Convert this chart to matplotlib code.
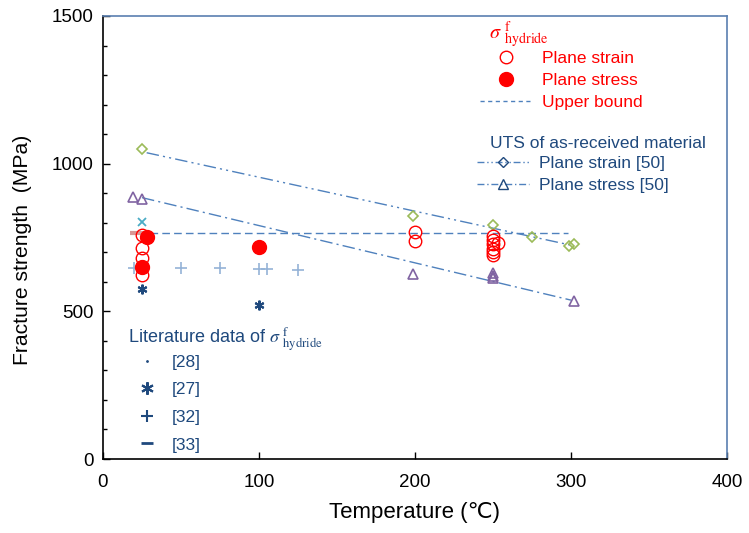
import numpy as np
import matplotlib
matplotlib.use('Agg')
import matplotlib.pyplot as plt
from matplotlib.lines import Line2D

plt.rcParams['font.family'] = ['Liberation Sans', 'DejaVu Sans']

# sigma_f hydride, this work
strain_T = [25, 25, 25, 25, 25, 200, 200, 250, 250, 250, 250, 250, 250, 253]
strain_S = [760, 715, 682, 650, 623, 768, 738, 755, 742, 727, 712, 700, 690, 731]
stress_T = [28, 25, 100]
stress_S = [752, 650, 718]
upper_T = [30, 298]
upper_S = [765, 765]

# UTS of as-received material [50]
uts_strain_T = [25, 199, 250, 275, 299, 302]
uts_strain_S = [1050, 822, 794, 753, 721, 727]
uts_stress_T = [19, 25, 199, 250, 250, 250, 302]
uts_stress_S = [887, 880, 627, 630, 620, 612, 535]
fit_strain_T = [28, 300]
fit_strain_S = [1037, 724]
fit_stress_T = [25, 300]
fit_stress_S = [885, 538]

# literature data
lit27_T = [25, 100]
lit27_S = [576, 520]
lit32_T = [20, 50, 75, 100, 105, 125]
lit32_S = [648, 648, 648, 645, 645, 640]
lit33_T = [22]
lit33_S = [765]
litx_T = [25]
litx_S = [802]

red = '#ff0000'
blue_line = '#4f81bd'
dark_blue = '#1f497d'
sig = r'$\sigma\ ^{\mathrm{f}}_{\mathrm{hydride}}$'

fig = plt.figure(figsize=(7.49, 5.33), dpi=100)
ax = fig.add_axes([0.1375, 0.1388, 0.8331, 0.8312])

ax.plot(fit_strain_T, fit_strain_S, color=blue_line, lw=1.0, ls=(0, (9, 3, 1.5, 3, 1.5, 3)))
ax.plot(fit_stress_T, fit_stress_S, color=blue_line, lw=1.0, ls=(0, (9, 3, 1.5, 3)))
ax.plot(upper_T, upper_S, color=blue_line, lw=1.0, ls=(0, (5.5, 3)))

ax.plot(uts_strain_T, uts_strain_S, ls='none', marker='D', ms=5, mfc='none', mec='#9bbb59', mew=1.2)
ax.plot(uts_stress_T, uts_stress_S, ls='none', marker='^', ms=6.5, mfc='none', mec='#8064a2', mew=1.2)

ax.plot(lit32_T, lit32_S, ls='none', marker='+', ms=8, mec='#95b3d7', mew=1.2)
ax.plot(lit27_T, lit27_S, ls='none', marker=(6, 2, 0), ms=7, mec=dark_blue, mew=1.5)
ax.plot(litx_T, litx_S, ls='none', marker='x', ms=6, mec='#4bacc6', mew=1.3)
ax.plot(lit33_T, lit33_S, ls='none', marker='_', ms=10, mec='#d99694', mew=3)

ax.plot(strain_T, strain_S, ls='none', marker='o', ms=9, mfc='none', mec=red, mew=1.0)
ax.plot(stress_T, stress_S, ls='none', marker='o', ms=10, mfc=red, mec=red)

ax.set_xlim(0, 400)
ax.set_ylim(0, 1500)
ax.set_xticks([0, 100, 200, 300, 400])
ax.set_yticks([0, 500, 1000, 1500])
ax.set_yticks(np.arange(0, 1501, 100), minor=True)
ax.tick_params(direction='in', labelsize=13.5, length=5, width=1)
ax.tick_params(axis='x', pad=10.5)
ax.tick_params(axis='y', pad=6.5)
ax.tick_params(which='minor', direction='in', length=3, width=1)
ax.tick_params(axis='x', which='minor', length=0)
for s in ['top', 'right']:
    ax.spines[s].set_color('#5a7fb0')
    ax.spines[s].set_linewidth(1.2)
for s in ['left', 'bottom']:
    ax.spines[s].set_linewidth(1.2)

ax.set_xlabel('Temperature (\u2103)', fontsize=16, labelpad=8)
ax.set_ylabel('Fracture strength  (MPa)', fontsize=15.2)
ax.yaxis.set_label_coords(-0.113, 0.472)

# legend: this work
ax.text(0.619, 0.957, sig, transform=ax.transAxes, color=red, fontsize=14.5,
        math_fontfamily='stix', va='center', ha='left')
h1 = [Line2D([], [], ls='none', marker='o', ms=9, mfc='none', mec=red),
      Line2D([], [], ls='none', marker='o', ms=10, mfc=red, mec=red),
      Line2D([], [], color=blue_line, lw=1.0, ls=(0, (3, 2.5)))]
leg1 = ax.legend(h1, ['Plane strain', 'Plane stress', 'Upper bound'],
                 loc='upper left', bbox_to_anchor=(0.604, 0.922), frameon=False,
                 fontsize=12.5, labelcolor=red, handlelength=3.0, handletextpad=0.6,
                 labelspacing=0.4, borderpad=0, borderaxespad=0)
ax.add_artist(leg1)

# legend: UTS
ax.text(0.620, 0.713, 'UTS of as-received material', transform=ax.transAxes,
        color=dark_blue, fontsize=12.5, va='center', ha='left')
h2 = [Line2D([], [], color=blue_line, lw=1.0, ls=(0, (5, 2, 1, 2, 1, 2)), marker='D', ms=5,
             mfc='none', mec=dark_blue),
      Line2D([], [], color=blue_line, lw=1.0, ls=(0, (5, 2, 1, 2)), marker='^', ms=6.5,
             mfc='none', mec=dark_blue)]
leg2 = ax.legend(h2, ['Plane strain [50]', 'Plane stress [50]'],
                 loc='upper left', bbox_to_anchor=(0.599, 0.685), frameon=False,
                 fontsize=12.5, labelcolor=dark_blue, handlelength=3.0, handletextpad=0.6,
                 labelspacing=0.4, borderpad=0, borderaxespad=0)
ax.add_artist(leg2)

# legend: literature
ax.text(0.040, 0.269, 'Literature data of ' + sig, transform=ax.transAxes,
        color=dark_blue, fontsize=13, math_fontfamily='stix', va='center', ha='left')
h3 = [Line2D([], [], ls='none', marker='.', ms=2, color=dark_blue),
      Line2D([], [], ls='none', marker=(6, 2, 0), ms=9, mec=dark_blue, mew=1.5),
      Line2D([], [], ls='none', marker='+', ms=9, mec=dark_blue, mew=1.5),
      Line2D([], [], ls='none', marker='_', ms=9, mec=dark_blue, mew=2)]
leg3 = ax.legend(h3, ['[28]', '[27]', '[32]', '[33]'],
                 loc='upper left', bbox_to_anchor=(0.0497, 0.236), frameon=False,
                 fontsize=12.5, labelcolor=dark_blue, handlelength=1.5, handletextpad=0.7,
                 labelspacing=0.72, borderpad=0, borderaxespad=0)

fig.savefig('out.png', dpi=100)
